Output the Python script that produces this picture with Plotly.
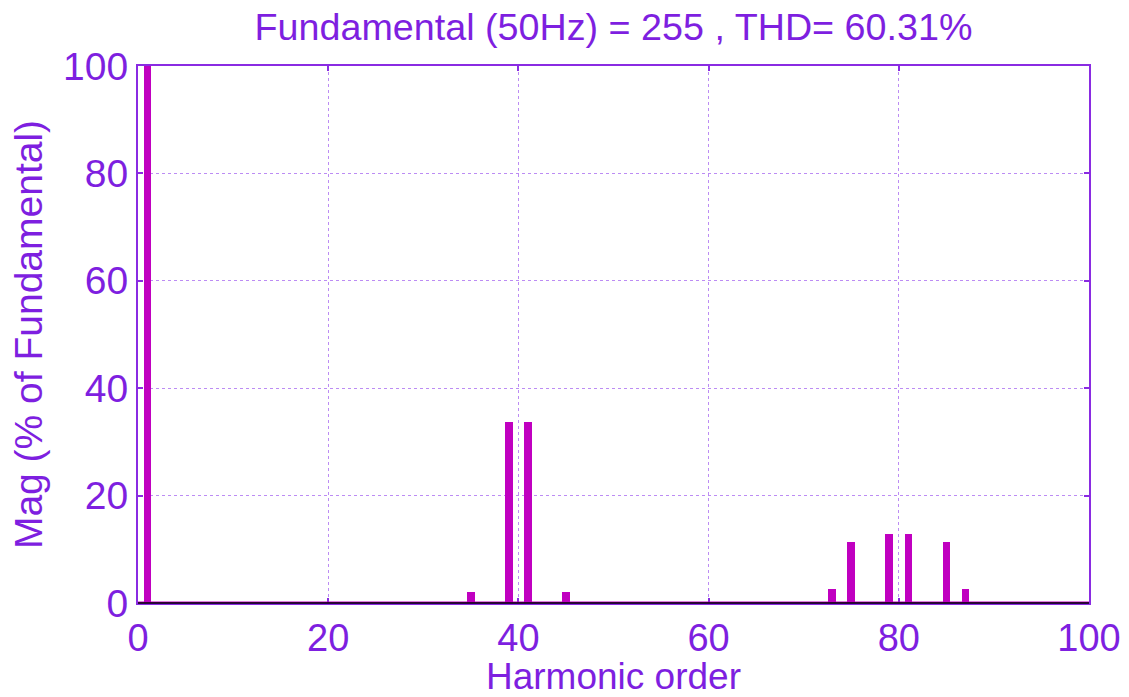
import plotly.graph_objects as go

# Harmonic spectrum (% of fundamental)
harmonic_order = [1, 35, 39, 41, 45, 73, 75, 79, 81, 85, 87]
magnitude = [100.0, 2.0, 33.7, 33.7, 2.0, 2.7, 11.3, 12.9, 12.9, 11.3, 2.7]

x_ticks = [0, 20, 40, 60, 80, 100]
y_ticks = [0, 20, 40, 60, 80, 100]

title_text = "Fundamental (50Hz) = 255 , THD= 60.31%"

TXT = "#7E1FE0"
AX = "#8A2BE2"
GRID = "#BC8CF4"
BAR = "#C000C0"
FONT = "Liberation Sans, Arial, sans-serif"

fig = go.Figure()
fig.add_trace(go.Bar(
    x=harmonic_order,
    y=magnitude,
    width=0.8,
    marker=dict(color=BAR, line=dict(width=0)),
    showlegend=False,
))

# baseline of the zero-magnitude harmonics
fig.add_shape(type="line", xref="x", yref="y", x0=0, x1=100, y0=0, y1=0,
              line=dict(color=BAR, width=3))
fig.add_shape(type="line", xref="paper", yref="paper", x0=0, x1=1, y0=0, y1=0,
              line=dict(color="black", width=1.5))

fig.update_layout(
    width=1129, height=697,
    margin=dict(l=138, r=40, t=66, b=94),
    paper_bgcolor="white", plot_bgcolor="white",
    font=dict(family=FONT, color=TXT, size=38),
    title=dict(text=title_text, x=0.5, xanchor="center", xref="paper",
               y=0.962, yanchor="middle", font=dict(size=37.7, color=TXT)),
    bargap=0,
)
fig.update_xaxes(
    range=[0, 100], tickvals=x_ticks, ticktext=[str(v) for v in x_ticks],
    automargin=False,
    showgrid=True, gridcolor=GRID, griddash="dot", gridwidth=1,
    showline=True, linecolor=AX, linewidth=2, mirror="ticks",
    ticks="inside", ticklen=5, tickcolor=AX, tickwidth=2,
    zeroline=False, tickfont=dict(size=38, color=TXT),
    title=dict(text="Harmonic order", font=dict(size=37, color=TXT), standoff=6),
)
fig.update_yaxes(
    range=[0, 100], tickvals=y_ticks, ticktext=[str(v) for v in y_ticks],
    automargin=False,
    showgrid=True, gridcolor=GRID, griddash="dot", gridwidth=1,
    showline=True, linecolor=AX, linewidth=2, mirror="ticks",
    ticks="inside", ticklen=5, tickcolor=AX, tickwidth=2,
    zeroline=False, tickfont=dict(size=39, color=TXT),
    title=dict(text="Mag (% of Fundamental)", font=dict(size=39, color=TXT), standoff=8),
)

fig.write_html("out.html")
